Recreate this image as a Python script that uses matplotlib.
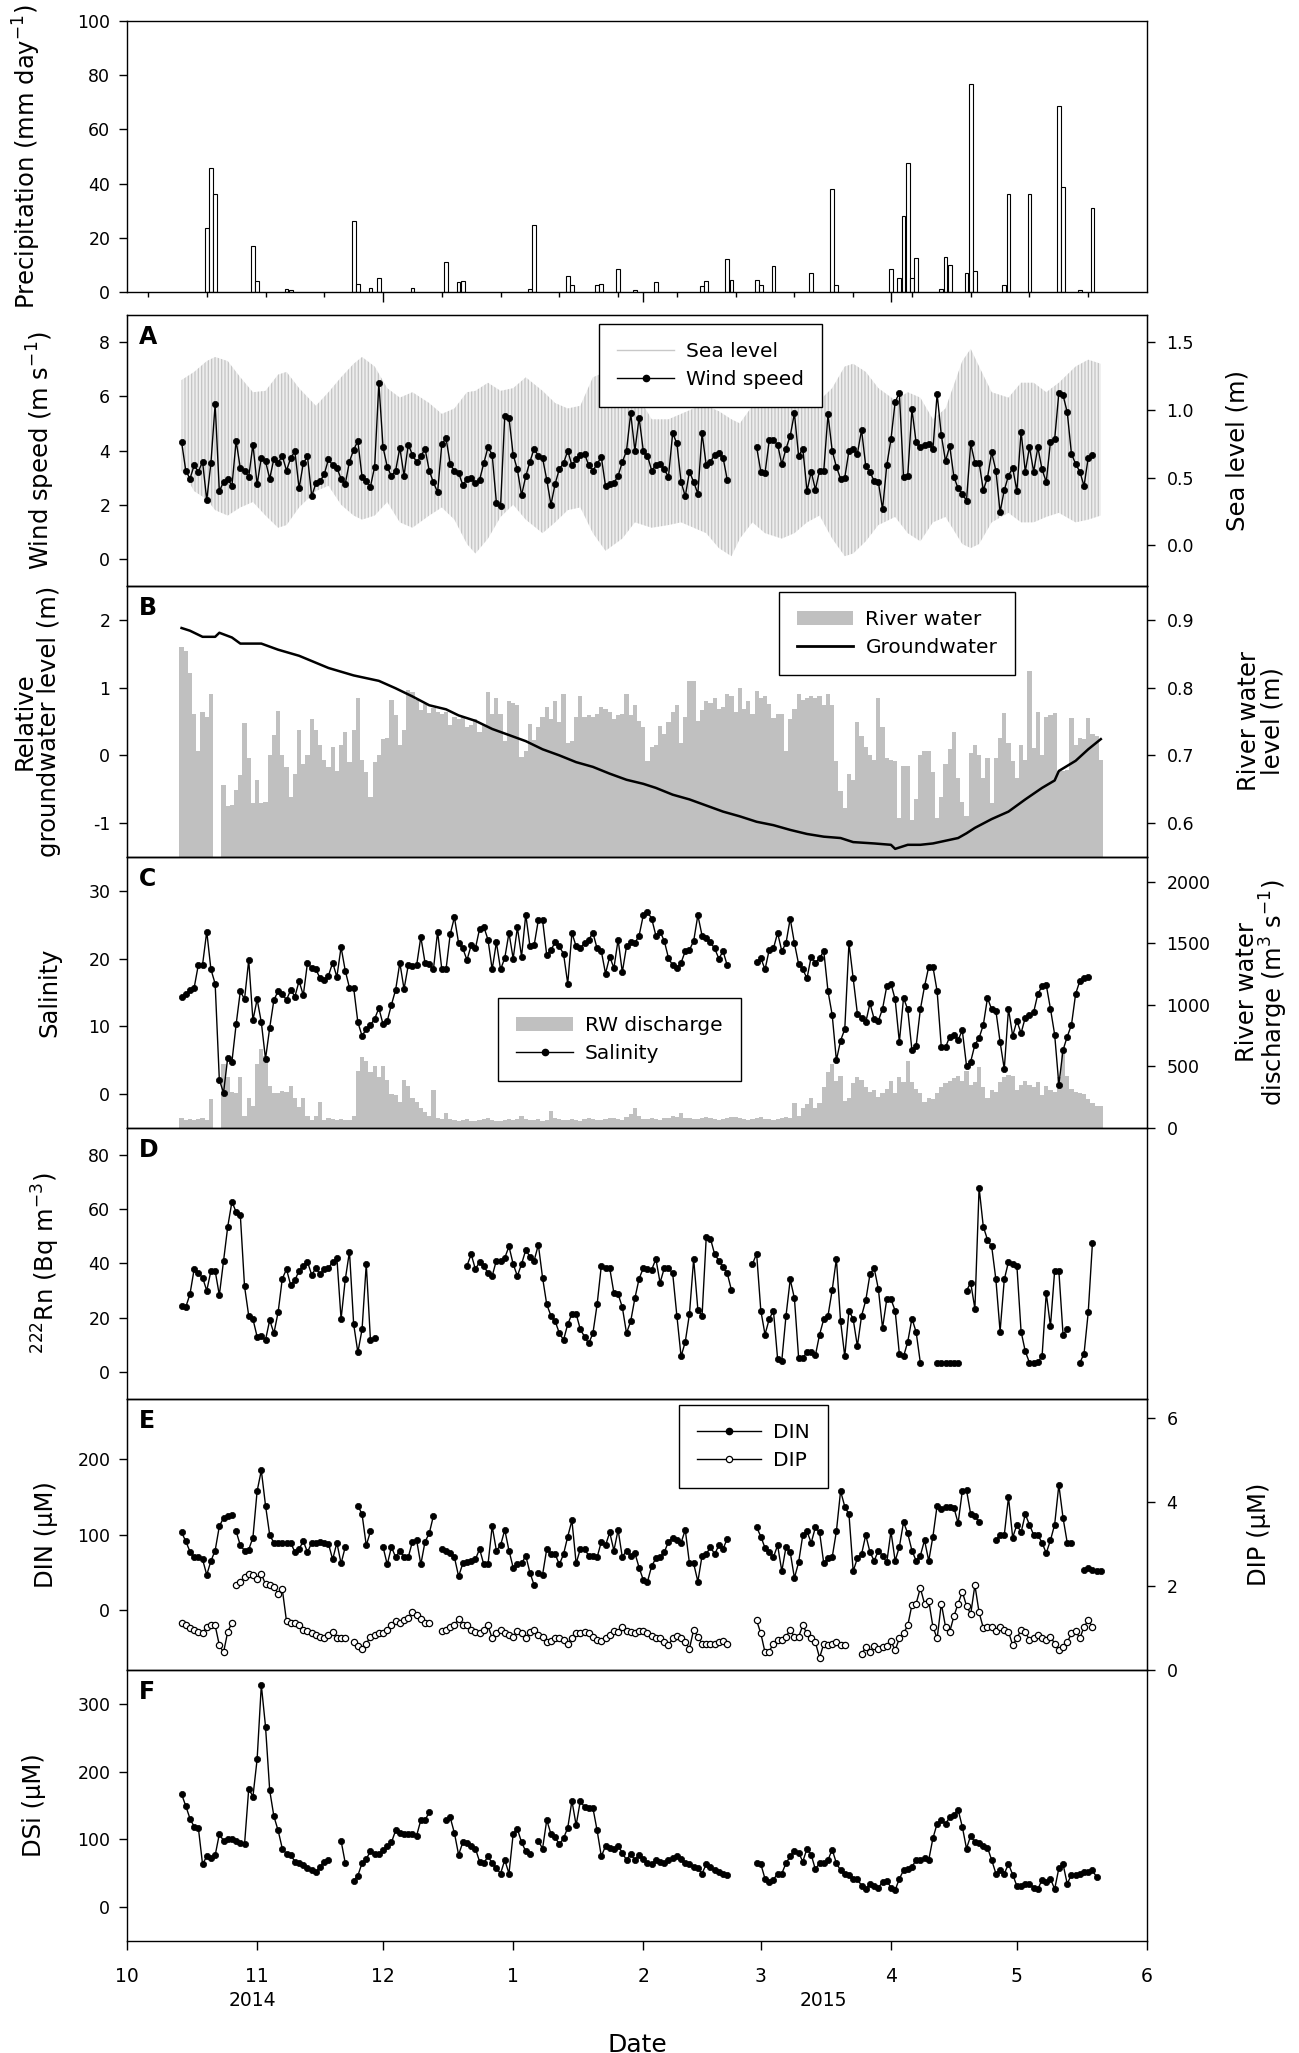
import numpy as np
import matplotlib
matplotlib.use("Agg")
import matplotlib.pyplot as plt
import matplotlib.dates as mdates
from matplotlib.lines import Line2D
from matplotlib.patches import Patch
from matplotlib.ticker import FuncFormatter

plt.rcParams["axes.unicode_minus"] = False
plt.rcParams["font.family"] = ["DejaVu Sans"]
plt.rcParams["hatch.linewidth"] = 0.9

# ---------------- data ----------------
X_START, X_END = "2014-10-01", "2015-06-01"

# precipitation: day offsets from X_START, mm/day
precip_day = [19, 20, 21, 30, 31, 38, 39, 54, 55, 58, 60, 68, 76, 79, 80, 96, 97,
              105, 106, 112, 113, 117, 121, 126, 137, 138, 143, 144, 150, 151, 154,
              163, 168, 169, 182, 184, 185, 186, 187, 188, 194, 195, 196, 200, 201,
              202, 209, 210, 215, 222, 223, 227, 230]
precip_mm = [23.6, 45.8, 36.3, 17.0, 4.1, 1.2, 0.6, 26.2, 3.1, 1.6, 5.3, 1.6, 11.1,
             3.7, 4.2, 1.2, 24.6, 6.0, 2.7, 2.7, 3.1, 8.6, 0.6, 3.7, 2.2, 4.2, 12.3,
             4.6, 4.6, 2.7, 9.6, 7.0, 38.1, 2.7, 8.6, 5.3, 28.0, 47.7, 5.3, 12.7,
             1.2, 12.9, 10.1, 7.1, 76.6, 7.7, 2.7, 36.3, 36.3, 68.5, 38.7, 0.6, 31.1]

# sea level tidal range envelope (m): day offsets, high and low water
sea_day = [13, 14, 16, 19, 21, 24, 27, 30, 33, 36, 38, 41, 45, 48, 51, 54, 56, 59,
           62, 65, 68, 72, 75, 78, 81, 83, 86, 89, 92, 95, 99, 102, 105, 108, 111,
           114, 118, 121, 125, 129, 132, 135, 138, 141, 144, 146, 149, 152, 156,
           159, 162, 165, 168, 171, 173, 176, 179, 183, 186, 189, 192, 195, 199,
           201, 203, 206, 210, 213, 216, 219, 222, 226, 229, 232]
sea_high = [1.22, 1.24, 1.28, 1.36, 1.39, 1.36, 1.24, 1.13, 1.14, 1.26, 1.28, 1.16,
            1.03, 1.13, 1.24, 1.34, 1.39, 1.32, 1.16, 1.09, 1.13, 1.05, 0.97, 1.01,
            1.13, 1.14, 1.20, 1.14, 1.16, 1.24, 1.14, 1.05, 1.01, 1.03, 1.24, 1.28,
            1.24, 1.14, 0.93, 0.93, 0.97, 1.01, 1.03, 0.99, 0.93, 0.90, 1.03, 1.16,
            1.22, 1.28, 1.24, 1.07, 1.16, 1.32, 1.34, 1.28, 1.16, 1.07, 1.13, 1.09,
            0.93, 1.01, 1.36, 1.45, 1.32, 1.13, 1.09, 1.20, 1.20, 1.13, 1.20, 1.32,
            1.37, 1.34]
sea_low = [0.55, 0.51, 0.40, 0.34, 0.26, 0.22, 0.28, 0.32, 0.22, 0.13, 0.15, 0.28,
           0.40, 0.44, 0.30, 0.22, 0.19, 0.22, 0.32, 0.17, 0.13, 0.22, 0.28, 0.19,
           0.01, -0.06, 0.05, 0.21, 0.30, 0.19, 0.09, 0.17, 0.26, 0.28, 0.09, -0.04,
           0.05, 0.17, 0.13, 0.15, 0.17, 0.13, 0.09, -0.02, -0.08, 0.05, 0.17, 0.09,
           0.05, 0.09, 0.17, 0.22, 0.05, -0.08, -0.06, 0.03, 0.15, 0.21, 0.09, 0.03,
           0.17, 0.21, 0.01, -0.02, 0.01, 0.17, 0.24, 0.17, 0.17, 0.21, 0.24, 0.17,
           0.19, 0.22]

# daily records: (first date, values) per unbroken run
wind = [
    ("2014-10-14", [4.32, 3.26, 2.96, 3.45, 3.22, 3.59, 2.17, 3.55, 5.71, 2.50,
                    2.84, 2.96, 2.69, 4.35, 3.34, 3.26, 3.02, 4.22, 2.75, 3.74,
                    3.60, 2.96, 3.70, 3.55, 3.80, 3.26, 3.72, 3.97, 2.60, 3.53,
                    3.78, 2.31, 2.79, 2.86, 3.13, 3.68, 3.45, 3.36, 2.96, 2.77,
                    3.59, 4.03, 4.35, 3.02, 2.88, 2.67, 3.40, 6.48, 4.12,
                    3.40, 3.05, 3.26, 4.10, 3.07, 4.22, 3.84, 3.57, 3.78, 4.07,
                    3.26, 2.82, 2.46, 4.24, 4.45, 3.51, 3.24, 3.17, 2.73, 2.94,
                    2.98, 2.79, 2.92, 3.53, 4.12, 3.84, 2.08, 1.96, 5.29, 5.21,
                    3.84, 3.30, 2.35, 3.05, 3.59, 4.07, 3.80, 3.72, 2.92, 2.00,
                    2.77, 3.32, 3.53, 3.99, 3.45, 3.68, 3.82, 3.88, 3.45, 3.26,
                    3.51, 3.76, 2.69, 2.77, 2.80, 3.07, 3.57, 3.99, 5.37, 3.99,
                    5.21, 3.99, 3.80, 3.26, 3.46, 3.51, 3.30, 3.03, 4.64, 4.26,
                    2.84, 2.31, 3.22, 2.84, 2.40, 4.64, 3.45, 3.59, 3.84, 3.91,
                    3.74, 2.92]),
    ("2015-02-28", [4.12, 3.22, 3.17, 4.37, 4.37, 4.22, 3.49, 4.07, 4.54, 5.37,
                    3.80, 4.07, 2.50, 3.22, 2.56, 3.26, 3.26, 5.33, 3.99, 3.40,
                    2.96, 3.00, 3.99, 4.07, 3.88, 4.76, 3.42, 3.20, 2.88, 2.84,
                    1.83, 3.45, 4.41, 5.79, 6.13, 3.02, 3.07, 5.52, 4.30, 4.12,
                    4.22, 4.25, 4.05, 6.09, 4.56, 3.61, 4.16, 3.03, 2.60, 2.40,
                    2.15, 4.26, 3.55, 3.55, 2.54, 3.00, 3.93, 3.26, 1.73, 2.54,
                    3.07, 3.36, 2.50, 4.70, 3.22, 4.12, 3.22, 4.12, 3.30, 2.84,
                    4.32, 4.41, 6.13, 6.04, 5.41, 3.88, 3.50, 3.22, 2.69, 3.74,
                    3.84]),
]

# groundwater level (m): day offsets and values
gw_day = [13, 15, 18, 21, 22, 25, 27, 32, 36, 41, 48, 54, 60, 64, 68, 72, 76, 79,
          83, 87, 91, 95, 99, 103, 107, 111, 115, 119, 123, 126, 130, 134, 138,
          142, 146, 150, 154, 158, 162, 166, 170, 173, 178, 182, 183, 186, 189,
          192, 195, 198, 200, 202, 206, 210, 214, 218, 221, 222, 226, 229, 232]
gw_level = [1.88, 1.84, 1.75, 1.75, 1.81, 1.74, 1.65, 1.65, 1.56, 1.47, 1.29, 1.18,
            1.10, 0.99, 0.87, 0.74, 0.68, 0.59, 0.51, 0.39, 0.30, 0.21, 0.09, 0.00,
            -0.10, -0.17, -0.27, -0.36, -0.42, -0.48, -0.58, -0.65, -0.74, -0.83,
            -0.90, -0.98, -1.03, -1.10, -1.16, -1.20, -1.22, -1.28, -1.30, -1.32,
            -1.38, -1.32, -1.32, -1.30, -1.26, -1.22, -1.15, -1.07, -0.94, -0.83,
            -0.65, -0.48, -0.37, -0.23, -0.08, 0.09, 0.24]

nan = np.nan
DAILY_START = "2014-10-14"
river_level = [  # m, daily from DAILY_START
    0.860, 0.854, 0.822, 0.761, 0.707, 0.764, 0.757, 0.791, nan, nan,
    0.656, 0.625, 0.627, 0.649, 0.671, 0.748, 0.696, 0.629, 0.664, 0.629,
    0.631, 0.700, 0.730, 0.766, 0.701, 0.683, 0.639, 0.673, 0.738, 0.688,
    0.700, 0.753, 0.738, 0.715, 0.693, 0.683, 0.713, 0.677, 0.716, 0.734,
    0.690, 0.738, 0.784, 0.693, 0.675, 0.639, 0.690, 0.700, 0.724, 0.726,
    0.782, 0.759, 0.716, 0.738, 0.797, 0.794, 0.782, 0.767, 0.776, 0.762,
    0.770, 0.764, 0.761, 0.764, 0.745, 0.757, 0.753, 0.757, 0.742, 0.745,
    0.753, 0.734, 0.745, 0.793, 0.761, 0.784, 0.761, 0.721, 0.780, 0.778,
    0.774, 0.698, 0.707, 0.747, 0.722, 0.742, 0.757, 0.772, 0.753, 0.780,
    0.749, 0.791, 0.719, 0.721, 0.757, 0.787, 0.757, 0.759, 0.757, 0.761,
    0.772, 0.768, 0.764, 0.753, 0.759, 0.761, 0.790, 0.759, 0.774, 0.751,
    0.742, 0.692, 0.713, 0.716, 0.744, 0.732, 0.749, 0.764, 0.774, 0.719,
    0.757, 0.810, 0.810, 0.751, 0.767, 0.780, 0.778, 0.785, 0.768, 0.772,
    0.791, 0.787, 0.764, 0.799, 0.768, 0.780, 0.761, 0.795, 0.784, 0.787,
    0.776, 0.755, 0.761, 0.761, 0.706, 0.753, 0.768, 0.791, 0.782, 0.784,
    0.787, 0.784, 0.787, 0.774, 0.791, 0.774, 0.692, 0.648, 0.623, 0.673,
    0.663, 0.749, 0.729, 0.713, 0.700, 0.693, 0.784, 0.742, 0.696, 0.693,
    0.692, 0.608, 0.684, 0.684, 0.604, 0.635, 0.700, 0.706, 0.707, 0.675,
    0.608, 0.638, 0.688, 0.709, 0.734, 0.667, 0.631, 0.610, 0.703, 0.716,
    0.701, 0.667, 0.696, 0.630, 0.696, 0.726, 0.762, 0.719, 0.692, 0.667,
    0.716, 0.693, 0.825, 0.711, 0.764, 0.701, 0.757, 0.759, 0.762, 0.677,
    0.677, 0.679, 0.755, 0.716, 0.726, 0.724, 0.755, 0.732, 0.729, 0.693]

rw_discharge = [  # m3/s, daily from DAILY_START
    84, 67, 76, 67, 76, 84, 67, 236, nan, nan,
    518, 413, 295, 287, 413, 97, 244, 181, 518, 645,
    582, 337, 287, 287, 299, 295, 337, 244, 169, 244,
    97, 67, 97, 211, 67, 84, 76, 67, 76, 67,
    63, 97, 464, 573, 540, 455, 506, 413, 506, 392,
    278, 266, 211, 392, 337, 244, 211, 160, 126, 97,
    308, 84, 76, 118,
    70, 62, 58, 66, 75, 60, 55, 63, 72, 80, 68, 60, 58, 65, 70, 62, 75, 98,
    70, 62, 66, 72, 58, 64, 140, 85, 70, 62, 68, 74, 66, 60, 72, 80, 75, 68,
    62, 70, 85, 78, 72, 66, 90, 110, 165, 95,
    70, 75, 80, 72, 68, 78, 85, 95, 90, 118, 85, 78, 70, 75, 82, 90, 80, 72,
    68, 76, 84, 92, 86, 78, 70, 65, 72, 80, 88, 76, 70, 66, 74, 82, 90, 78,
    202, 97, 160, 194, 244, 160, 202, 329, 455, 518,
    379, 421, 223, 244, 362, 413, 392, 329, 295, 308,
    253, 287, 320, 379, 287, 413, 371, 540, 371, 320,
    287, 211, 244, 236, 287, 329, 362, 379, 405, 421,
    379, 464, 350, 371, 497, 329, 244, 308, 295, 371,
    413, 434, 421, 308, 350, 379, 350, 329, 371, 266,
    337, 308, 295, 413, 620, 421, 320, 295, 287, 278,
    236, 202, 181, 181]

salinity = [
    ("2014-10-14", [14.4, 14.8, 15.3, 15.7, 19.1, 19.1, 24.0, 18.4, 16.3, 2.1,
                    0.2, 5.4, 4.8, 10.3, 15.2, 14.0, 19.8, 10.9, 14.0, 10.6,
                    5.2, 9.8, 13.9, 15.2, 14.8, 13.9, 15.4, 14.4, 16.7, 14.6,
                    19.4, 18.6, 18.4, 17.1, 16.8, 17.5, 19.4, 17.3, 21.7, 18.2,
                    15.7, 15.7, 10.6, 8.6, 9.6, 10.2, 11.1, 12.7, 10.3, 10.8,
                    13.2, 15.4, 19.4, 15.5, 19.0, 18.9, 19.0, 23.2, 19.4, 19.2,
                    18.4, 24.0, 18.4, 18.4, 23.6, 26.1, 22.3, 21.5, 19.8, 22.0,
                    21.5, 24.4, 24.7, 22.8, 18.4, 22.4, 18.4, 20.1, 23.8, 20.0,
                    24.6, 20.3, 26.5, 21.8, 22.0, 25.7, 25.7, 20.5, 21.3, 22.4,
                    21.8, 20.7, 16.3, 23.8, 21.8, 21.5, 22.3, 22.8, 23.8, 21.5,
                    21.1, 17.8, 20.3, 18.6, 22.8, 18.0, 21.8, 22.4,
                    22.3, 23.4, 26.4, 26.9, 25.9, 23.4, 24.0, 22.6, 20.1, 19.0,
                    18.6, 19.4, 21.1, 21.3, 22.6, 26.4, 23.4, 23.0, 22.4, 21.5,
                    20.0, 21.1, 19.0]),
    ("2015-02-28", [19.5, 20.1, 18.4, 21.3, 21.5, 23.8, 21.1, 22.3, 25.9, 22.3,
                    19.2, 18.4, 17.1, 20.3, 19.4, 20.1, 21.1, 15.2, 11.7, 5.0,
                    7.9, 9.6, 22.3, 17.1, 11.9, 11.3, 10.6, 13.4, 11.1, 10.8,
                    12.6, 15.9, 16.3, 14.0, 7.7, 14.2, 12.5, 6.5, 7.1, 12.5,
                    15.9, 18.8, 18.8, 15.2, 6.9, 6.9, 8.5, 8.8, 8.0, 9.4,
                    4.2, 4.8, 7.3, 8.3, 10.2, 14.2, 12.5, 12.3, 7.7, 3.7,
                    12.6, 8.6, 10.8, 9.0, 11.3, 11.7, 12.1, 14.8, 15.9, 16.1,
                    12.6, 8.8, 1.4, 6.5, 8.5, 10.2, 14.8, 16.7, 17.1, 17.3]),
]

radon = [
    ("2014-10-14", [24.3, 23.9, 28.7, 37.9, 36.4, 34.8, 30.0, 37.3, 37.3, 28.3,
                    41.1, 53.6, 62.8, 59.0, 57.8, 31.6, 20.7, 19.5, 13.0, 13.4,
                    11.8, 19.1, 14.3, 22.0, 34.4, 37.9, 32.0, 33.9, 37.3, 39.2,
                    40.6, 35.8, 38.3, 36.0, 37.9, 38.3, 40.6, 42.1, 19.5, 34.1,
                    44.4, 17.6, 7.2, 15.7, 39.8, 11.8, 12.4]),
    ("2014-12-21", [39.2, 43.4, 37.9, 40.6, 39.2, 36.4, 35.4, 41.1, 41.1, 42.1,
                    46.3, 39.8, 35.4, 39.8, 45.0, 42.5, 41.1, 46.9, 34.8, 24.9,
                    20.7, 18.7, 14.3, 11.8, 17.6, 21.4, 21.4, 15.7, 13.0, 10.5,
                    14.3, 24.9, 39.2, 38.3, 38.3, 29.1, 28.7, 23.9, 14.3, 18.7,
                    27.2, 34.4, 38.3, 37.9, 37.7, 41.7, 32.9, 38.3, 38.3, 36.4,
                    20.7, 5.7, 11.1, 21.4, 41.7, 23.0, 20.7, 49.8, 49.2, 43.4,
                    41.1, 38.7, 36.4, 30.2]),
    ("2015-02-27", [39.8, 43.6, 22.6, 13.8, 19.5, 22.6, 4.8, 4.2, 20.7, 34.1,
                    27.2, 5.3, 5.3, 7.2, 7.2, 6.1, 13.8, 19.5, 20.7, 30.2,
                    41.7, 18.7, 5.7, 22.6, 19.5, 9.5, 20.7, 26.4, 36.0, 38.3,
                    30.6, 16.2, 26.8, 26.8, 22.6, 6.7, 5.7, 11.1, 19.7, 14.7,
                    3.4]),
    ("2015-04-12", [3.4, 3.4, 3.3, 3.2, 3.4, 3.4]),
    ("2015-04-19", [30.0, 32.9, 23.3, 68.0, 53.6, 48.8, 46.3, 34.1, 14.9, 34.1,
                    40.6, 39.8, 39.2, 14.9, 7.6, 3.4, 3.4, 3.8, 5.7, 29.1,
                    16.8, 37.3, 37.3, 13.8, 15.7]),
    ("2015-05-16", [3.4, 6.7, 22.0, 47.5]),
]

din = [
    ("2014-10-14", [102.8, 91.1, 77.3, 69.8, 69.8, 67.0, 46.4, 65.0, 78.7, 111.0,
                    122.0, 124.7, 126.1]),
    ("2014-10-27", [104.1, 85.6, 78.7, 80.0, 95.9, 157.7, 185.2, 138.5, 99.3, 89.0,
                    89.0, 89.0, 89.0, 89.0, 76.6, 80.8, 91.1, 76.6, 89.0, 89.0,
                    90.4, 89.0, 87.6, 67.0, 89.0, 61.5, 83.5]),
    ("2014-11-25", [138.5, 126.8, 85.6, 104.1]),
    ("2014-12-01", [83.5, 60.2, 83.5, 69.8, 78.7, 69.8, 69.8, 90.4, 92.4, 60.2,
                    90.4, 101.4, 124.7]),
    ("2014-12-15", [80.8, 78.7, 75.3, 69.8, 44.4, 61.5, 63.0, 65.0, 67.0, 80.8,
                    60.2, 60.2, 111.0, 78.7, 85.6, 106.2, 78.7, 56.0, 60.2, 61.5,
                    71.8, 49.2, 32.7]),
    ("2015-01-07", [49.2, 46.4, 80.8, 73.9, 73.9, 60.2, 73.9, 97.3, 118.6, 61.5,
                    80.8, 80.8, 71.8, 71.8, 69.8, 90.4, 85.6, 102.8, 78.7, 106.2,
                    69.8, 78.7, 71.1, 75.3, 56.0, 39.6, 37.5, 58.1, 68.4, 69.8,
                    76.6, 90.4, 95.9, 92.4, 89.0, 106.2, 61.5, 61.5, 37.5, 71.8,
                    73.9, 83.5, 73.9, 85.6, 80.8, 94.5]),
    ("2015-02-28", [109.6, 97.3, 82.2, 76.6, 69.8, 85.6, 51.3, 83.5, 76.6, 42.3,
                    62.9, 99.3, 104.1, 89.0, 109.6, 102.8, 61.5, 68.4, 69.8, 104.1,
                    157.7, 137.1, 126.8, 51.3, 68.4, 73.9, 99.3, 76.6, 65.0, 78.7,
                    71.8, 62.9, 104.1, 65.0, 83.5, 116.5, 101.4, 78.7, 65.0, 71.8,
                    92.4, 65.0, 97.3, 138.5, 133.7, 137.1, 137.1, 135.7, 115.1, 157.7,
                    159.1, 126.8, 124.7, 116.5]),
    ("2015-04-26", [92.4, 99.3, 99.3, 149.5, 95.9, 113.1, 102.8, 126.8, 113.1, 99.3,
                    99.3, 89.0, 75.3, 92.4, 113.1, 165.9, 122.0, 89.0, 89.0]),
    ("2015-05-17", [53.4, 56.0, 53.4, 51.3, 51.3]),
]

dip = [
    ("2014-10-14", [1.12, 1.06, 1.00, 0.96, 0.91, 0.87, 1.03, 1.08, 1.06, 0.59,
                    0.42, 0.91, 1.12]),
    ("2014-10-27", [2.02, 2.10, 2.22, 2.29, 2.27, 2.17, 2.29, 2.04, 2.02, 1.98,
                    1.82, 1.92, 1.16, 1.12, 1.12, 1.08, 0.96, 0.94, 0.87, 0.84,
                    0.79, 0.75, 0.84, 0.91, 0.75, 0.75, 0.75]),
    ("2014-11-24", [0.66, 0.57, 0.51, 0.63, 0.79, 0.83, 0.87, 0.87, 0.96, 1.08,
                    1.16, 1.12, 1.18, 1.24, 1.37, 1.30, 1.21, 1.12, 1.12]),
    ("2014-12-15", [0.94, 0.96, 1.03, 1.08, 1.21, 1.06, 1.06, 0.96, 0.91, 0.87,
                    0.96, 1.06, 0.75, 0.87, 0.96, 0.87, 0.84, 0.79, 0.94, 0.87,
                    0.75, 0.91, 0.96]),
    ("2015-01-07", [0.84, 0.79, 0.66, 0.69, 0.75, 0.75, 0.71, 0.63, 0.75, 0.87,
                    0.87, 0.91, 0.87, 0.79, 0.71, 0.69, 0.75, 0.84, 0.94, 0.91,
                    1.03, 0.94, 0.91, 0.87, 0.94, 0.94, 0.87, 0.81, 0.75, 0.75,
                    0.66, 0.59, 0.75, 0.81, 0.75, 0.66, 0.51, 0.96, 0.79, 0.63,
                    0.63, 0.63, 0.63, 0.66, 0.69, 0.63]),
    ("2015-02-28", [1.18, 0.87, 0.42, 0.44, 0.63, 0.71, 0.71, 0.79, 0.96, 0.79,
                    0.79, 1.06, 0.87, 0.75, 0.66, 0.29, 0.63, 0.59, 0.63, 0.66,
                    0.59, 0.59]),
    ("2015-03-25", [0.38, 0.54, 0.42, 0.57, 0.51, 0.54, 0.57, 0.69, 0.47, 0.75,
                    0.87, 1.06, 1.55, 1.58, 1.95, 1.58, 1.65, 1.03, 0.75, 1.58,
                    1.03, 0.91, 1.28, 1.58, 1.86, 1.53, 1.33, 2.02, 1.37, 1.00,
                    1.03, 1.03, 0.94, 1.03, 0.96, 0.91, 0.59, 0.75, 0.96, 0.91,
                    0.71, 0.75, 0.84, 0.75, 0.71, 0.79, 0.63, 0.47, 0.54, 0.66,
                    0.87, 0.94, 0.75, 1.03, 1.18, 1.03]),
]

dsi = [
    ("2014-10-14", [166.9, 149.2, 130.8, 118.6, 117.0, 63.4, 74.9, 72.6, 76.4, 107.9,
                    97.9, 100.2, 100.2, 97.9, 94.1, 92.5, 174.6, 163.1, 218.2, 327.8,
                    266.5, 172.2, 133.9, 113.2, 86.4, 78.7, 77.2, 67.2, 65.0, 61.9,
                    57.3, 54.2, 51.9, 59.6, 67.2, 69.5]),
    ("2014-11-21", [97.9, 65.0]),
    ("2014-11-24", [38.9, 46.6, 65.0, 71.1, 82.6, 78.7, 78.7, 84.9, 90.2, 95.6,
                    113.2, 109.4, 107.9, 107.9, 107.9, 105.6, 128.5, 128.5, 140.0]),
    ("2014-12-16", [128.5, 132.4, 109.4, 77.2, 95.6, 94.1, 90.2, 86.4, 67.2, 65.0,
                    74.9, 65.0, 57.3, 49.6, 69.5, 49.6, 107.9, 115.5, 95.6, 82.6,
                    78.7]),
    ("2015-01-07", [97.9, 86.4, 128.5, 107.9, 103.3, 92.5, 101.7, 117.0, 156.9, 120.9,
                    156.9, 147.7, 146.2, 146.2, 113.2, 74.9, 90.2, 87.9, 86.4, 90.2,
                    80.3, 69.5, 78.7, 69.5, 77.2, 71.1, 65.0, 63.4, 69.5, 67.2,
                    65.0, 69.5, 72.6, 74.9, 71.1, 65.0, 63.4, 59.6, 57.3, 49.6,
                    63.4, 59.6, 54.2, 51.9, 49.6, 48.1]),
    ("2015-02-28", [65.0, 63.4, 41.9, 36.6, 40.4, 49.6, 49.6, 65.0, 74.9, 82.6,
                    80.3, 67.2, 86.4, 77.2, 55.8, 65.0, 65.0, 69.5, 84.9, 65.0,
                    54.2, 49.6, 48.1, 41.9, 41.9, 31.2, 26.6, 34.3, 31.2, 28.9,
                    36.6, 38.9, 28.9, 25.1, 41.9, 54.2, 55.8, 59.6, 69.5, 69.5,
                    72.6, 69.5, 101.7, 123.2, 128.5, 123.2, 132.4, 136.2, 143.9, 118.6,
                    86.4, 105.6, 95.6, 94.1, 90.2, 87.9, 69.5, 49.6, 54.2, 49.6,
                    63.4, 48.1, 31.2, 31.2, 34.3, 34.3, 28.9, 26.6, 40.4, 36.6,
                    41.9, 26.6, 57.3, 63.4, 34.3, 48.1, 48.1, 49.6, 51.9, 51.9,
                    54.2, 44.4]),
]

year_labels = [("2014-10-31", "2014"), ("2015-03-16", "2015")]


# ---------------- helpers ----------------
def offsets_to_dates(days):
    return np.datetime64(X_START) + np.asarray(days, dtype=int)


def runs(segments):
    """join daily runs into one date/value series, NaN between runs"""
    xs, ys = [], []
    for start, vals in segments:
        d = np.datetime64(start) + np.arange(len(vals))
        xs += [d, np.array([d[-1] + 1])]
        ys += [np.asarray(vals, float), np.array([np.nan])]
    return np.concatenate(xs), np.concatenate(ys)


def daily(vals):
    v = np.asarray(vals, float)
    d = np.datetime64(DAILY_START) + np.arange(len(v))
    ok = ~np.isnan(v)
    return d[ok], v[ok]


GRAY = "#c0c0c0"
TICK_FS = 12.5
LAB_FS = 17.5
xmin, xmax = np.datetime64(X_START), np.datetime64(X_END)

fig = plt.figure(figsize=(12.99, 20.53), dpi=100)
L, W, H = 127 / 1299, 1020 / 1299, 271 / 2053


def panel(top_px):
    ax = fig.add_axes([L, 1 - (top_px + 271) / 2053, W, H])
    ax.set_xlim(xmin, xmax)
    for s in ax.spines.values():
        s.set_linewidth(1.0)
    ax.tick_params(axis="y", direction="out", length=6, width=1,
                   labelsize=TICK_FS, pad=6)
    ax.tick_params(axis="x", which="both", bottom=False, top=False,
                   labelbottom=False)
    return ax


def right_axis(ax):
    ax2 = ax.twinx()
    ax2.set_xlim(xmin, xmax)
    ax2.tick_params(axis="y", direction="out", length=6, width=1,
                    labelsize=TICK_FS, pad=8)
    ax.set_zorder(ax2.get_zorder() + 1)
    ax.patch.set_visible(False)
    return ax2


def letter(ax, s):
    ax.text(0.012, 0.962, s, transform=ax.transAxes, ha="left", va="top",
            fontsize=17, fontweight="bold")


def box_legend(ax, handles, labels, x, y, **kw):
    opts = dict(loc="upper left", bbox_to_anchor=(x, y),
                bbox_transform=ax.transAxes, frameon=True, fancybox=False,
                framealpha=1, edgecolor="black", fontsize=14.5, borderpad=0.9,
                handlelength=2.8, handletextpad=0.6, labelspacing=0.45,
                borderaxespad=0)
    opts.update(kw)
    leg = ax.legend(handles, labels, **opts)
    leg.get_frame().set_linewidth(1.0)
    return leg


def dot_line(ax, segs, open_marker=False):
    x, y = runs(segs)
    ax.plot(x, y, color="black", lw=1.0, marker="o", ms=4.5,
            mfc="white" if open_marker else "black", mec="black",
            mew=0.9 if open_marker else 0.5)


def ylab(ax, text, x, **kw):
    ax.set_ylabel(text, fontsize=LAB_FS, multialignment="center", **kw)
    ax.yaxis.set_label_coords(x, 0.5)


# ---- precipitation ----
axp = panel(21)
axp.bar(offsets_to_dates(precip_day), precip_mm, width=0.9, facecolor="white",
        edgecolor="black", linewidth=0.8)
axp.set_ylim(0, 100)
axp.set_yticks(range(0, 101, 20))
major = mdates.date2num(np.array(["2014-12-01", "2015-02-01", "2015-04-01"],
                                 dtype="datetime64[D]"))
minor = mdates.date2num(np.arange(np.datetime64("2014-10-06"), xmax, 14))
axp.set_xticks(major)
axp.set_xticks(minor, minor=True)
axp.tick_params(axis="x", which="both", bottom=True, direction="out",
                labelbottom=False, width=1)
axp.tick_params(axis="x", which="major", length=7)
axp.tick_params(axis="x", which="minor", length=3.5)
ylab(axp, "Precipitation (mm day$^{-1}$)", -0.082)

# ---- A: wind speed and sea level ----
axA = panel(315)
axA2 = right_axis(axA)
axA2.fill_between(offsets_to_dates(sea_day), sea_low, sea_high,
                  facecolor="#eeeeee", edgecolor="#c4c4c4", hatch="|||||",
                  lw=0)
axA2.set_ylim(-0.3, 1.7)
axA2.set_yticks([0.0, 0.5, 1.0, 1.5])
dot_line(axA, wind)
axA.set_ylim(-1, 9)
axA.set_yticks([0, 2, 4, 6, 8])
ylab(axA, "Wind speed (m s$^{-1}$)", -0.069)
ylab(axA2, "Sea level (m)", 1.077)
letter(axA, "A")
box_legend(axA,
           [Line2D([], [], color="#c8c8c8", lw=1),
            Line2D([], [], color="black", lw=1, marker="o", ms=4.5)],
           ["Sea level", "Wind speed"], 0.463, 0.967)

# ---- B: groundwater and river water level ----
axB = panel(586)
axB2 = right_axis(axB)
rd, rv = daily(river_level)
base = 0.55
axB2.bar(rd, rv - base, bottom=base, width=1.0, color=GRAY, lw=0)
axB2.set_ylim(0.55, 0.95)
axB2.set_yticks([0.6, 0.7, 0.8, 0.9])
axB.plot(offsets_to_dates(gw_day), gw_level, color="black", lw=1.8)
axB.set_ylim(-1.5, 2.5)
axB.set_yticks([-1, 0, 1, 2])
ylab(axB, "Relative\ngroundwater level (m)", -0.065, linespacing=1.0)
ylab(axB2, "River water\nlevel (m)", 1.088, linespacing=1.0)
letter(axB, "B")
box_legend(axB,
           [Patch(facecolor=GRAY, edgecolor="none"),
            Line2D([], [], color="black", lw=2)],
           ["River water", "Groundwater"], 0.639, 0.978)

# ---- C: salinity and river discharge ----
axC = panel(857)
axC2 = right_axis(axC)
qd, qv = daily(rw_discharge)
axC2.bar(qd, qv, width=1.0, color=GRAY, lw=0)
axC2.set_ylim(0, 2200)
axC2.set_yticks([0, 500, 1000, 1500, 2000])
dot_line(axC, salinity)
axC.set_ylim(-5, 35)
axC.set_yticks([0, 10, 20, 30])
ylab(axC, "Salinity", -0.064)
ylab(axC2, "River water\ndischarge (m$^{3}$ s$^{-1}$)", 1.086, linespacing=0.95)
letter(axC, "C")
box_legend(axC,
           [Patch(facecolor=GRAY, edgecolor="none"),
            Line2D([], [], color="black", lw=1, marker="o", ms=4.5)],
           ["RW discharge", "Salinity"], 0.364, 0.481)

# ---- D: radon ----
axD = panel(1128)
dot_line(axD, radon)
axD.set_ylim(-10, 90)
axD.set_yticks([0, 20, 40, 60, 80])
ylab(axD, "$^{222}$Rn (Bq m$^{-3}$)", -0.064)
letter(axD, "D")

# ---- E: DIN and DIP ----
axE = panel(1399)
axE2 = right_axis(axE)
dot_line(axE2, dip, open_marker=True)
axE2.set_ylim(0, 6.45)
axE2.set_yticks([0, 2, 4, 6])
dot_line(axE, din)
axE.set_ylim(-80, 280)
axE.set_yticks([0, 100, 200])
ylab(axE, "DIN (\u03bcM)", -0.068)
ylab(axE2, "DIP (\u03bcM)", 1.098)
letter(axE, "E")
box_legend(axE,
           [Line2D([], [], color="black", lw=1, marker="o", ms=4.5),
            Line2D([], [], color="black", lw=1, marker="o", ms=4.5,
                   mfc="white", mew=0.9)],
           ["DIN", "DIP"], 0.541, 0.978, handlelength=3.2)

# ---- F: silicate ----
axF = panel(1670)
dot_line(axF, dsi)
axF.set_ylim(-50, 350)
axF.set_yticks([0, 100, 200, 300])
ylab(axF, "DSi (\u03bcM)", -0.079)
letter(axF, "F")
axF.xaxis.set_major_locator(mdates.MonthLocator())
axF.xaxis.set_major_formatter(
    FuncFormatter(lambda v, p: str(mdates.num2date(v).month)))
axF.tick_params(axis="x", which="major", bottom=True, labelbottom=True,
                direction="out", length=6.5, width=1, labelsize=13.5, pad=12)
for when, txt in year_labels:
    axF.text(np.datetime64(when), -0.218, txt, ha="center", va="center",
             fontsize=13.5, transform=axF.get_xaxis_transform())
axF.set_xlabel("Date", fontsize=18)
axF.xaxis.set_label_coords(0.5, -0.34)
axF.xaxis.label.set_va("top")

fig.savefig("out.png", dpi=100)
